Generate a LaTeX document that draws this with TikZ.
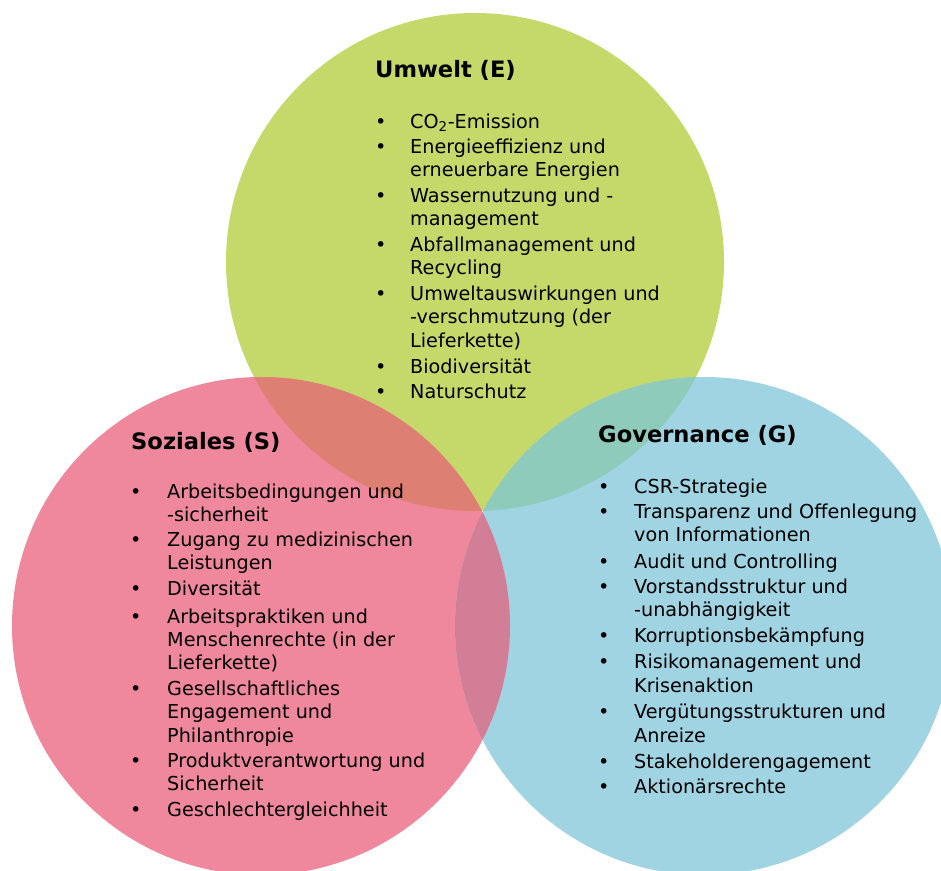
\documentclass[tikz,border=0pt]{standalone}
\usepackage{fontspec}
\setmainfont{DejaVu Sans}
\usetikzlibrary{calc}

\definecolor{envgreen}{HTML}{C5D96B}
\definecolor{socpink}{HTML}{EF889C}
\definecolor{govblue}{HTML}{A0D4E2}
\definecolor{envsoc}{HTML}{DE7F74}
\definecolor{envgov}{HTML}{8FCBBA}
\definecolor{socgov}{HTML}{D37E97}
\definecolor{allthree}{HTML}{C98A8C}

\tikzset{
  linetext/.style={anchor=base west, inner sep=0pt, font=\fontsize{19.2}{23}\selectfont},
  dot/.style={anchor=base west, inner sep=0pt, font=\fontsize{19.2}{23}\selectfont},
  heading/.style={anchor=base west, inner sep=0pt, font=\fontsize{22.6}{26}\selectfont\bfseries},
}

\begin{document}
\begin{tikzpicture}[x=1pt, y=-1pt]
  \useasboundingbox (0,0) rectangle (941,870);

  % the three circles
  \def\envcircle{(475,262) circle[radius=249]}
  \def\soccircle{(261,626) circle[radius=249]}
  \def\govcircle{(704,626) circle[radius=249]}

  \fill[envgreen] \envcircle;
  \fill[socpink] \soccircle;
  \fill[govblue] \govcircle;
  \begin{scope}
    \clip \envcircle;
    \fill[envsoc] \soccircle;
    \fill[envgov] \govcircle;
  \end{scope}
  \begin{scope}
    \clip \soccircle;
    \fill[socgov] \govcircle;
  \end{scope}
  \begin{scope}
    \clip \envcircle;
    \clip \soccircle;
    \fill[allthree] \govcircle;
  \end{scope}

  % Umwelt
  \node[heading] (envtitle) at (375,77) {Umwelt (E)};
  \foreach \y/\t [count=\i] in {
      128/{CO\textsubscript{2}-Emission},
      153/Energieeffizienz und,
      176/erneuerbare Energien,
      202/Wassernutzung und -,
      225/management,
      251/Abfallmanagement und,
      274/Recycling,
      300/Umweltauswirkungen und,
      323/-verschmutzung (der,
      347/Lieferkette),
      373/Biodiversität,
      398/Naturschutz}
    \node[linetext] (envline\i) at (410,\y) {\t};
  \foreach \y [count=\i] in {128,153,202,251,300,373,398}
    \node[dot] (envdot\i) at (375,\y) {•};

  % Soziales
  \node[heading] (soctitle) at (131,449) {Soziales (S)};
  \foreach \y/\t [count=\i] in {
      498/Arbeitsbedingungen und,
      521/-sicherheit,
      546/Zugang zu medizinischen,
      569/Leistungen,
      595/Diversität,
      623/Arbeitspraktiken und,
      646/Menschenrechte (in der,
      669/Lieferkette),
      695/Gesellschaftliches,
      718/Engagement und,
      742/Philanthropie,
      767/Produktverantwortung und,
      790/Sicherheit,
      816/Geschlechtergleichheit}
    \node[linetext] (socline\i) at (167,\y) {\t};
  \foreach \y [count=\i] in {498,546,595,623,695,767,816}
    \node[dot] (socdot\i) at (130,\y) {•};

  % Governance
  \node[heading] (govtitle) at (598,442) {Governance (G)};
  \foreach \y/\t [count=\i] in {
      493/CSR-Strategie,
      518/Transparenz und Offenlegung,
      541/von Informationen,
      568/Audit und Controlling,
      593/Vorstandsstruktur und,
      616/-unabhängigkeit,
      642/Korruptionsbekämpfung,
      668/Risikomanagement und,
      692/Krisenaktion,
      718/Vergütungsstrukturen und,
      742/Anreize,
      768/Stakeholderengagement,
      793/Aktionärsrechte}
    \node[linetext] (govline\i) at (634,\y) {\t};
  \foreach \y [count=\i] in {493,518,568,593,642,668,718,768,793}
    \node[dot] (govdot\i) at (598,\y) {•};
\end{tikzpicture}
\end{document}
